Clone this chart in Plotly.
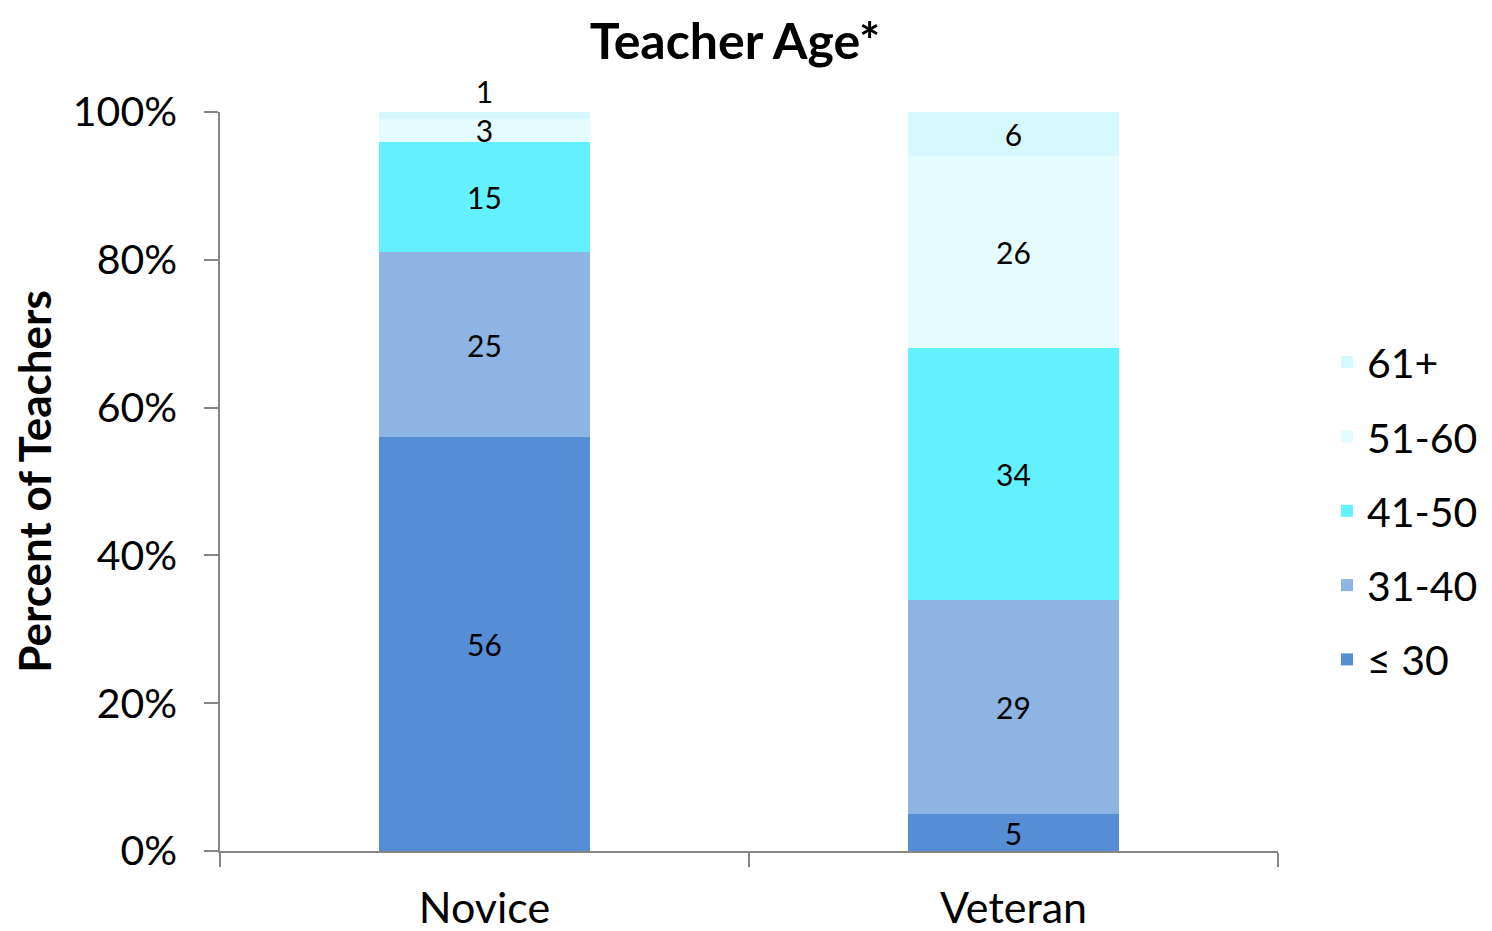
import plotly.graph_objects as go

categories = ["Novice", "Veteran"]
series_names = ["≤ 30", "31-40", "41-50", "51-60", "61+"]
le30 = [56, 5]
a31_40 = [25, 29]
a41_50 = [15, 34]
a51_60 = [3, 26]
a61p = [1, 6]
values = [le30, a31_40, a41_50, a51_60, a61p]
colors = ["#558ED5", "#8EB4E3", "#63F0FF", "#E5FCFF", "#D5F8FC"]
y_ticks = [0, 20, 40, 60, 80, 100]
y_ticktext = ["0%", "20%", "40%", "60%", "80%", "100%"]

FONT = "Lato"
OFF = 8  # page body has an 8px margin in the 1492x931 window
W, H = 1492 - OFF, 931 - OFF

fig = go.Figure()
n = len(series_names)
for i, (name, vals, col) in enumerate(zip(series_names, values, colors)):
    tp = ["inside"] * len(vals)
    if name == "61+":
        tp = ["outside" if v < 2 else "inside" for v in vals]
    fig.add_trace(go.Bar(
        x=categories, y=vals, name=name,
        marker=dict(color=col, line=dict(width=0)),
        width=0.4,
        text=[str(v) for v in vals],
        textposition=tp,
        insidetextanchor="middle",
        textangle=0,
        textfont=dict(family=FONT, size=30, color="black"),
        outsidetextfont=dict(family=FONT, size=30, color="black"),
        cliponaxis=False,
        legendgroup=name,
        legendrank=n - i,
    ))

fig.update_layout(
    barmode="stack",
    width=W, height=H,
    paper_bgcolor="white", plot_bgcolor="white",
    margin=dict(l=220 - OFF, r=W - (1278 - OFF), t=112 - OFF, b=H - (851 - OFF), autoexpand=False),
    uniformtext=dict(minsize=30, mode="show"),
    font=dict(family=FONT, color="black"),
    title=dict(text="<b>Teacher Age*</b>", x=(735 - OFF) / W, xanchor="center",
               y=1 - (41 - OFF) / H, yanchor="middle", yref="container",
               font=dict(family=FONT, size=50, color="black")),
    legend=dict(x=(1327 - OFF) / W, xref="container", xanchor="left", y=0.46, yanchor="middle",
                traceorder="grouped", tracegroupgap=18,
                font=dict(family=FONT, size=41, color="black"),
                bgcolor="rgba(0,0,0,0)"),
    showlegend=True,
)
fig.update_yaxes(
    range=[0, 100], tickvals=y_ticks, ticktext=y_ticktext,
    showgrid=False, zeroline=False, automargin=False,
    showline=True, linecolor="#868686", linewidth=1.5,
    ticks="outside", ticklen=14, tickcolor="#868686", tickwidth=1.5,
    tickfont=dict(family=FONT, size=41, color="black"),
    ticklabelstandoff=19,
    title=dict(text="<b>Percent of Teachers</b>", standoff=14,
               font=dict(family=FONT, size=44, color="black")),
)
fig.update_xaxes(
    showgrid=False, zeroline=False, automargin=False,
    showline=True, linecolor="#868686", linewidth=1.5,
    ticks="outside", ticklen=14, tickcolor="#868686", tickwidth=1.5,
    tickson="boundaries",
    tickfont=dict(family=FONT, size=43, color="black"),
    ticklabelstandoff=19,
)

fig.write_html("out.html")
